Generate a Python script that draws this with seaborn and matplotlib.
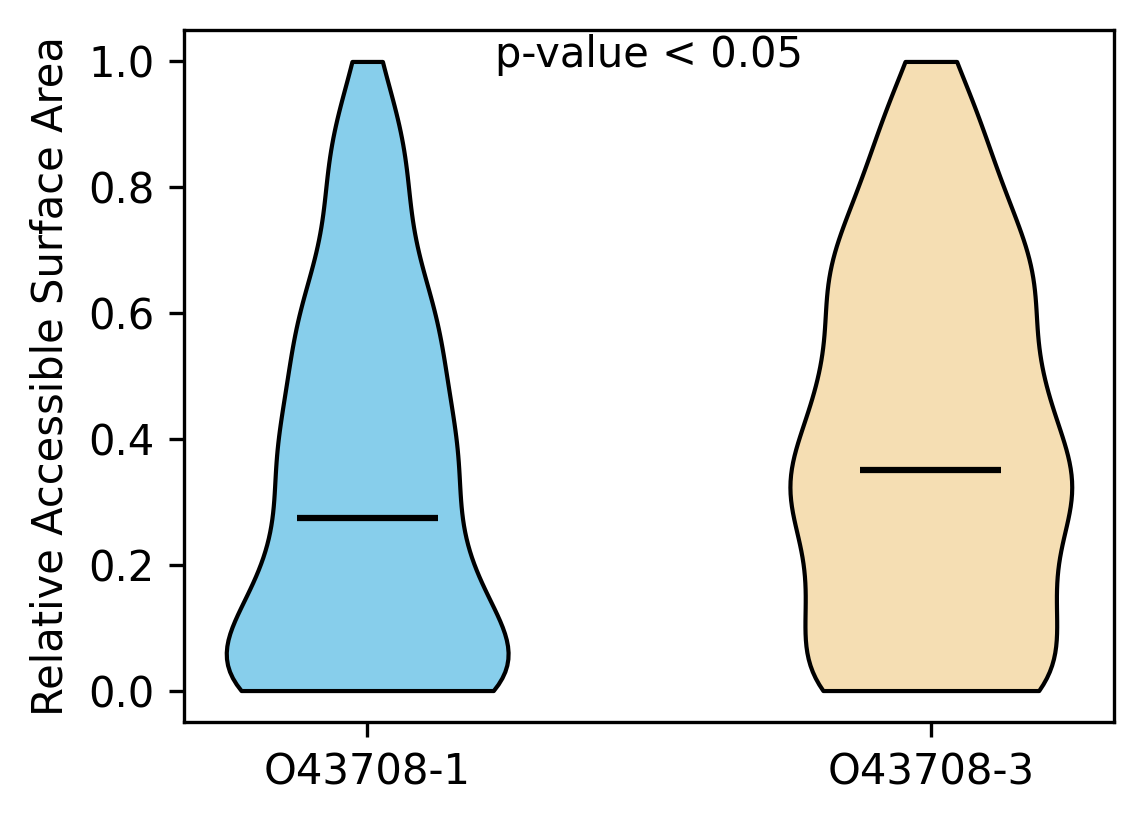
import numpy as np
import pandas as pd
import matplotlib
matplotlib.use("Agg")
import matplotlib.pyplot as plt
import seaborn as sns

# ---- data (RSA values binned at 0.05 steps, residue counts per bin) ----
isoforms = ["O43708-1", "O43708-3"]
rsa_levels = [0.00, 0.05, 0.10, 0.15, 0.20, 0.25, 0.30, 0.35, 0.40, 0.45, 0.50,
              0.55, 0.60, 0.65, 0.70, 0.75, 0.80, 0.85, 0.90, 0.95, 1.00]
counts_iso1 = [115, 49, 33, 44, 37, 22, 27, 38, 34, 24, 23,
               28, 28, 19, 12, 12, 15, 16, 12, 8, 4]
counts_iso3 = [90, 10, 22, 55, 24, 6, 70, 48, 8, 46, 32,
               13, 29, 38, 25, 19, 20, 15, 12, 15, 5]
colors = ["#87CEEB", "#F5DEB3"]
annotation = "p-value < 0.05"
y_label = "Relative Accessible Surface Area"

rsa_iso1 = np.repeat(rsa_levels, counts_iso1)
rsa_iso3 = np.repeat(rsa_levels, counts_iso3)
df = pd.DataFrame({
    "isoform": [isoforms[0]] * len(rsa_iso1) + [isoforms[1]] * len(rsa_iso3),
    "rsa": np.concatenate([rsa_iso1, rsa_iso3]),
})

BW = 0.09  # absolute KDE bandwidth


def bandwidth(kde):
    return BW / np.std(kde.dataset, ddof=1)


fig = plt.figure(figsize=(1144 / 300, 824 / 300), dpi=300)
ax = fig.add_axes([0.16084, 0.12379, 0.81294, 0.83981])

sns.violinplot(data=df, x="isoform", y="rsa", hue="isoform", order=isoforms,
               hue_order=isoforms, palette=colors, inner=None, cut=0,
               density_norm="width", width=0.5, linewidth=1, linecolor="black",
               bw_method=bandwidth, saturation=1, legend=False, ax=ax)

for i, vals in enumerate([rsa_iso1, rsa_iso3]):
    ax.hlines(np.median(vals), i - 0.125, i + 0.125, colors="black", linewidth=1.5, zorder=3)

ax.set_xlim(-0.325, 1.325)
ax.set_ylim(-0.05, 1.05)
ax.set_yticks([0.0, 0.2, 0.4, 0.6, 0.8, 1.0])
ax.set_xlabel("")
ax.set_ylabel(y_label, fontsize=10)
ax.tick_params(labelsize=10)
ax.text(0.5, 0.947, annotation, transform=ax.transAxes, ha="center", va="baseline", fontsize=10)

fig.savefig("out.png", dpi=300)
